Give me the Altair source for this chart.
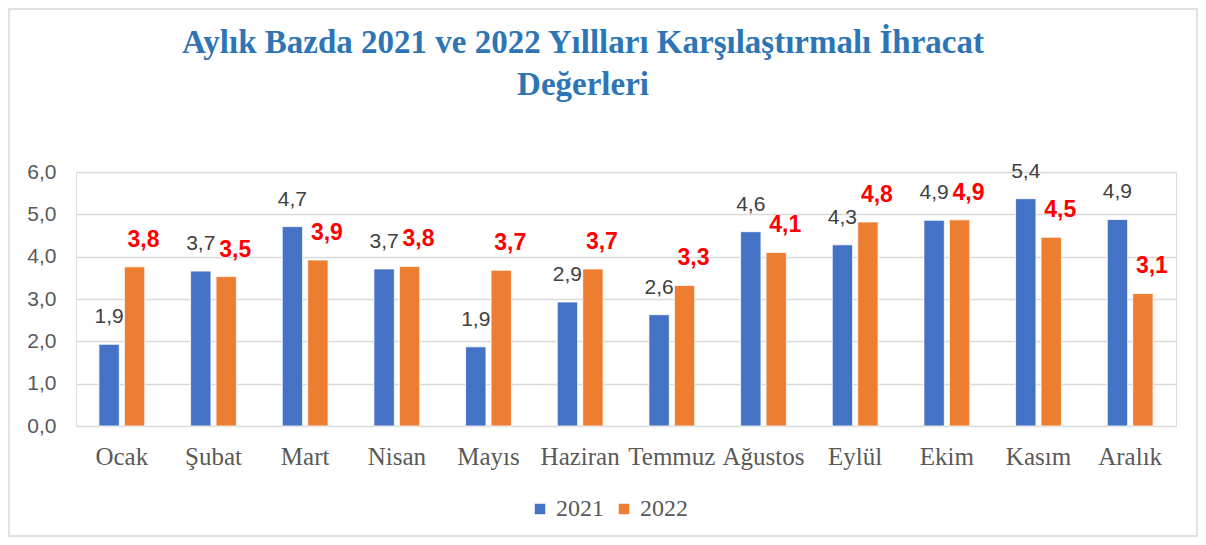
import altair as alt
import pandas as pd

months = ["Ocak", "Şubat", "Mart", "Nisan", "Mayıs", "Haziran",
          "Temmuz", "Ağustos", "Eylül", "Ekim", "Kasım", "Aralık"]
v2021 = [1.93, 3.66, 4.71, 3.71, 1.87, 2.93, 2.63, 4.59, 4.28, 4.86, 5.37, 4.88]
v2022 = [3.76, 3.53, 3.92, 3.77, 3.68, 3.71, 3.32, 4.10, 4.82, 4.87, 4.46, 3.13]
years = ["2021", "2022"]
title_lines = ["Aylık Bazda 2021 ve 2022 Yıllları Karşılaştırmalı İhracat", "Değerleri"]

rows = []
for i, m in enumerate(months):
    rows.append({"ay": m, "yil": "2021", "deger": v2021[i]})
    rows.append({"ay": m, "yil": "2022", "deger": v2022[i]})
df = pd.DataFrame(rows)

W, H = 1100, 254
PL, PT, PR, PB = 68, 164, 22, 111

xscale = alt.Scale(paddingInner=0.5, paddingOuter=0.25)
xoscale = alt.Scale(paddingInner=0.2)
yscale = alt.Scale(domain=[0, 6])

x_enc = alt.X("ay:N", sort=months, scale=xscale,
              axis=alt.Axis(title=None, labelAngle=0, ticks=False, domain=False,
                            labelFont="Liberation Serif", labelFontSize=25,
                            labelColor="#595959", labelPadding=18, grid=False))
xo = alt.XOffset("yil:N", scale=xoscale, sort=years)
y_enc = alt.Y("deger:Q", scale=yscale,
              axis=alt.Axis(title=None, values=[0, 1, 2, 3, 4, 5, 6],
                            labelExpr="replace(format(datum.value,'.1f'),'.',',')",
                            ticks=False, domain=False, gridColor="#D9D9D9", gridWidth=1.5,
                            labelFont="Liberation Sans", labelFontSize=21,
                            labelColor="#595959", labelPadding=20))

color = alt.Color("yil:N", scale=alt.Scale(domain=years, range=["#4472C4", "#ED7D31"]),
                  legend=alt.Legend(title=None, orient="none", legendX=452, legendY=325,
                                    direction="horizontal", symbolType="square",
                                    symbolSize=110, symbolStrokeWidth=0,
                                    labelFont="Liberation Serif", labelFontSize=24,
                                    labelColor="#595959", columnPadding=8))

base = alt.Chart(df).transform_calculate(
    lbl="replace(format(datum.deger,'.1f'),'.',',')"
)

bars = base.mark_bar(stroke="white", strokeWidth=0.8).encode(
    x=x_enc, xOffset=xo, y=y_enc, color=color
)

t2021 = base.transform_filter("datum.yil == '2021'").mark_text(
    dy=-27, font="Liberation Sans", fontSize=21, color="#404040", baseline="middle"
).encode(x=x_enc, xOffset=xo, y=y_enc, text="lbl:N")

t2022 = base.transform_filter("datum.yil == '2022'").mark_text(
    dy=-27, dx=9, font="Liberation Sans", fontSize=23, fontWeight="bold",
    color="#FF0000", baseline="middle"
).encode(x=x_enc, xOffset=xo, y=y_enc, text="lbl:N")

border = alt.Chart(pd.DataFrame({"k": [0]})).mark_rect(
    fill=None, stroke="#D9D9D9", strokeWidth=1.5
).encode(
    x=alt.value(-PL + 1), x2=alt.value(W + PR - 1),
    y=alt.value(-PT + 1), y2=alt.value(H + PB - 1)
)

title = alt.Chart(pd.DataFrame({"k": [0]})).mark_text(
    font="Liberation Serif", fontSize=33, fontWeight="bold", color="#2E75B6",
    align="center", baseline="top", lineHeight=42
).encode(
    x=alt.value(507), y=alt.value(-145), text=alt.value(title_lines)
)

chart = alt.layer(bars, t2021, t2022, border, title).properties(
    width=W, height=H,
    padding={"left": PL, "top": PT, "right": PR, "bottom": PB},
    autosize=alt.AutoSizeParams(type="none")
).configure_view(strokeWidth=0).configure(background="white")

chart.save("out.html", embed_options={"renderer": "svg", "actions": False})
